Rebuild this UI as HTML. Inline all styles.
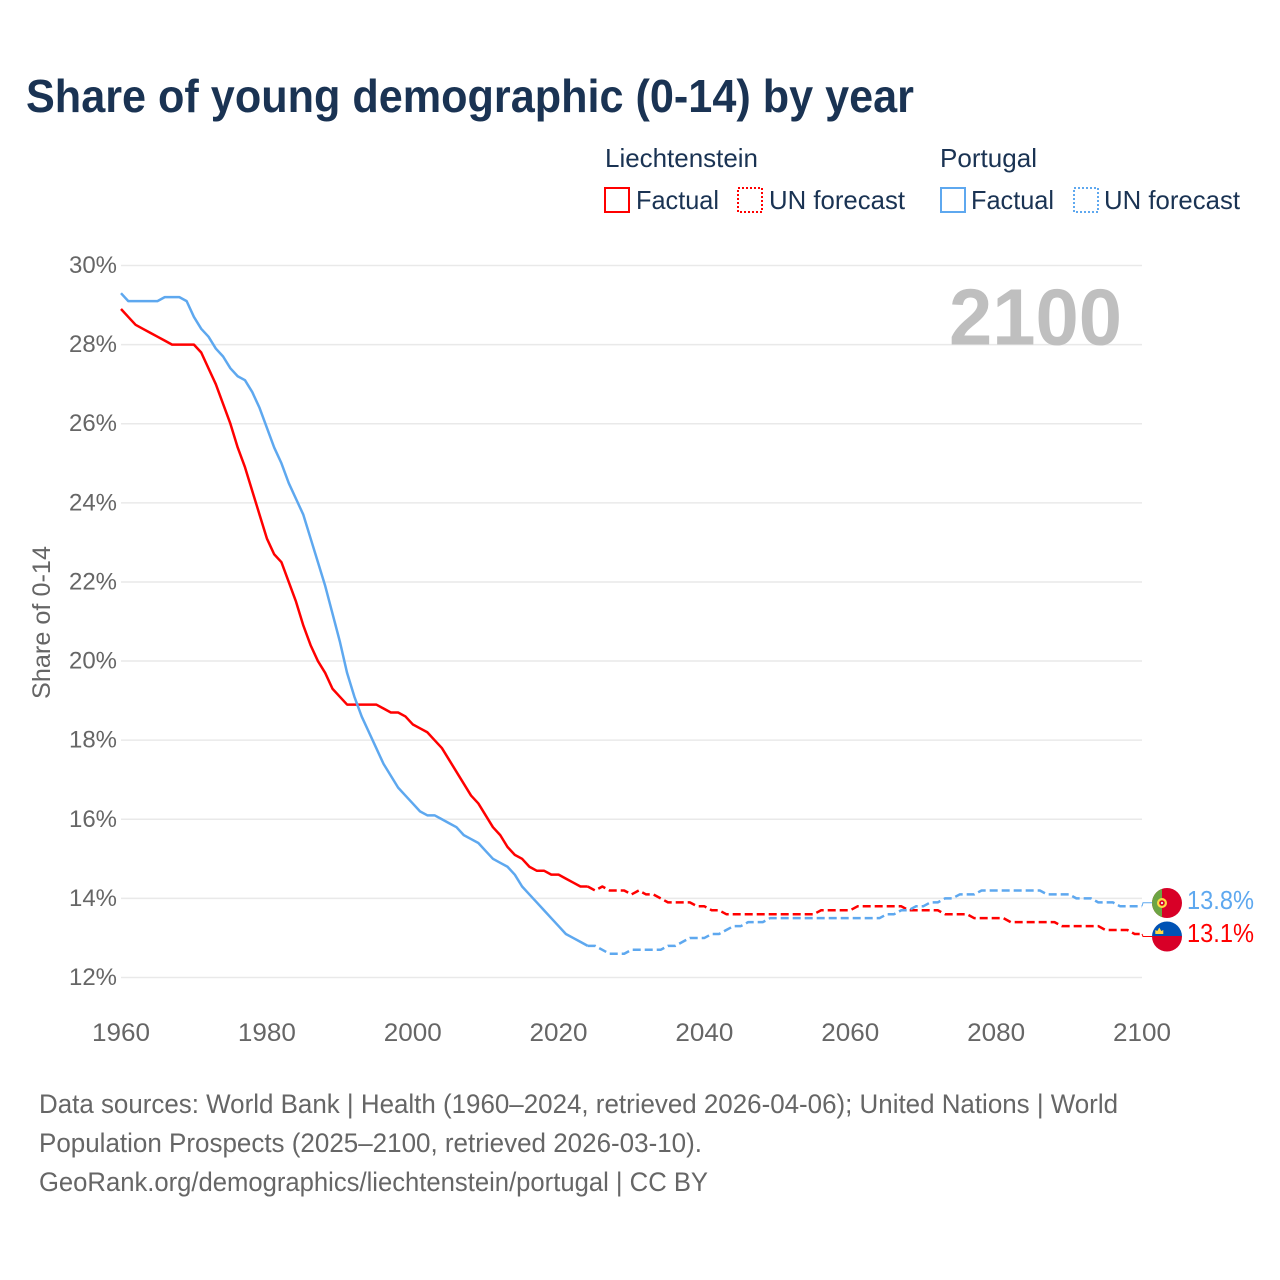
<!DOCTYPE html>
<html lang="en">
<head>
<meta charset="utf-8">
<title>Share of young demographic (0-14) by year</title>
<style>
html,body{margin:0;padding:0;background:#fff;}
svg{display:block;font-family:"Liberation Sans",sans-serif;}
</style>
</head>
<body>
<svg id="chart" xmlns="http://www.w3.org/2000/svg" width="1280" height="1280" viewBox="0 0 1280 1280">
  <defs>
    <clipPath id="clip-flag-pt"><circle cx="1167" cy="903" r="15"/></clipPath>
    <clipPath id="clip-flag-li"><circle cx="1167" cy="936.5" r="15"/></clipPath>
  </defs>
  <rect x="0" y="0" width="1280" height="1280" fill="#ffffff"/>
  <text x="26" y="112" font-size="46" font-weight="700" fill="#1a3353" textLength="888" lengthAdjust="spacingAndGlyphs">Share of young demographic (0-14) by year</text>

  <g font-size="26" fill="#1a3353">
    <text x="605" y="167" textLength="153" lengthAdjust="spacingAndGlyphs">Liechtenstein</text>
    <rect x="605" y="188" width="24" height="24" fill="none" stroke="#ff0000" stroke-width="2"/>
    <text x="636" y="209" textLength="83" lengthAdjust="spacingAndGlyphs">Factual</text>
    <rect x="738" y="188" width="24" height="24" fill="none" stroke="#ff0000" stroke-width="2" stroke-dasharray="2 2"/>
    <text x="769" y="209" textLength="136" lengthAdjust="spacingAndGlyphs">UN forecast</text>
    <text x="940" y="167" textLength="97" lengthAdjust="spacingAndGlyphs">Portugal</text>
    <rect x="941" y="188" width="24" height="24" fill="none" stroke="#5ea8ef" stroke-width="2"/>
    <text x="971" y="209" textLength="83" lengthAdjust="spacingAndGlyphs">Factual</text>
    <rect x="1074" y="188" width="24" height="24" fill="none" stroke="#5ea8ef" stroke-width="2" stroke-dasharray="2 2"/>
    <text x="1104" y="209" textLength="136" lengthAdjust="spacingAndGlyphs">UN forecast</text>
  </g>

  <g id="grid"></g>
  <g id="yticks"></g>
  <g id="xticks"></g>

  <text transform="translate(50 622.5) rotate(-90)" text-anchor="middle" font-size="25" fill="#666666" textLength="153" lengthAdjust="spacingAndGlyphs">Share of 0-14</text>
  <text x="949" y="344.5" font-size="80" font-weight="700" fill="#bfbfbf" textLength="173" lengthAdjust="spacingAndGlyphs">2100</text>

  <g id="series"></g>

  <g clip-path="url(#clip-flag-pt)">
    <rect x="1152" y="887" width="30" height="32" fill="#d80027"/>
    <rect x="1152" y="887" width="10" height="32" fill="#6da544"/>
    <circle cx="1162" cy="903" r="5" fill="#ffda44"/>
    <circle cx="1162" cy="903" r="2.8" fill="#d80027"/>
    <circle cx="1162" cy="903" r="1.1" fill="#eeeeee"/>
  </g>
  <g clip-path="url(#clip-flag-li)">
    <rect x="1152" y="921" width="30" height="15.5" fill="#0052b4"/>
    <rect x="1152" y="936" width="30" height="16" fill="#d80027"/>
    <path d="M1155.3 934 L1155.3 930 L1157.3 931 L1159.3 927.5 L1161.3 931 L1163.3 930 L1163.3 934 Z" fill="#ffda44"/>
  </g>

  <g font-size="27" fill="#666666">
    <text x="39" y="1113" textLength="1079" lengthAdjust="spacingAndGlyphs">Data sources: World Bank | Health (1960–2024, retrieved 2026-04-06); United Nations | World</text>
    <text x="39" y="1152" textLength="663" lengthAdjust="spacingAndGlyphs">Population Prospects (2025–2100, retrieved 2026-03-10).</text>
    <text x="39" y="1191" textLength="669" lengthAdjust="spacingAndGlyphs">GeoRank.org/demographics/liechtenstein/portugal | CC BY</text>
  </g>
</svg>
<script>
var xTickLabels = [1960,1980,2000,2020,2040,2060,2080,2100];
var yTickLabels = [12,14,16,18,20,22,24,26,28,30];
var factualYears = [1960,1961,1962,1963,1964,1965,1966,1967,1968,1969,1970,1971,1972,1973,1974,1975,1976,1977,1978,1979,1980,1981,1982,1983,1984,1985,1986,1987,1988,1989,1990,1991,1992,1993,1994,1995,1996,1997,1998,1999,2000,2001,2002,2003,2004,2005,2006,2007,2008,2009,2010,2011,2012,2013,2014,2015,2016,2017,2018,2019,2020,2021,2022,2023,2024];
var forecastYears = [2024,2025,2026,2027,2028,2029,2030,2031,2032,2033,2034,2035,2036,2037,2038,2039,2040,2041,2042,2043,2044,2045,2046,2047,2048,2049,2050,2051,2052,2053,2054,2055,2056,2057,2058,2059,2060,2061,2062,2063,2064,2065,2066,2067,2068,2069,2070,2071,2072,2073,2074,2075,2076,2077,2078,2079,2080,2081,2082,2083,2084,2085,2086,2087,2088,2089,2090,2091,2092,2093,2094,2095,2096,2097,2098,2099,2100];
var liechtensteinFactual = [28.9,28.7,28.5,28.4,28.3,28.2,28.1,28.0,28.0,28.0,
  28.0,27.8,27.4,27.0,26.5,26.0,25.4,24.9,24.3,23.7,
  23.1,22.7,22.5,22.0,21.5,20.9,20.4,20.0,19.7,19.3,
  19.1,18.9,18.9,18.9,18.9,18.9,18.8,18.7,18.7,18.6,
  18.4,18.3,18.2,18.0,17.8,17.5,17.2,16.9,16.6,16.4,
  16.1,15.8,15.6,15.3,15.1,15.0,14.8,14.7,14.7,14.6,
  14.6,14.5,14.4,14.3,14.3];
var portugalFactual = [29.3,29.1,29.1,29.1,29.1,29.1,29.2,29.2,29.2,29.1,
  28.7,28.4,28.2,27.9,27.7,27.4,27.2,27.1,26.8,26.4,
  25.9,25.4,25.0,24.5,24.1,23.7,23.1,22.5,21.9,21.2,
  20.5,19.7,19.1,18.6,18.2,17.8,17.4,17.1,16.8,16.6,
  16.4,16.2,16.1,16.1,16.0,15.9,15.8,15.6,15.5,15.4,
  15.2,15.0,14.9,14.8,14.6,14.3,14.1,13.9,13.7,13.5,
  13.3,13.1,13.0,12.9,12.8];
var liechtensteinForecast = [14.3,14.2,14.3,14.2,14.2,14.2,
  14.1,14.2,14.1,14.1,14.0,13.9,13.9,13.9,13.9,13.8,
  13.8,13.7,13.7,13.6,13.6,13.6,13.6,13.6,13.6,13.6,
  13.6,13.6,13.6,13.6,13.6,13.6,13.7,13.7,13.7,13.7,
  13.7,13.8,13.8,13.8,13.8,13.8,13.8,13.8,13.7,13.7,
  13.7,13.7,13.7,13.6,13.6,13.6,13.6,13.5,13.5,13.5,
  13.5,13.5,13.4,13.4,13.4,13.4,13.4,13.4,13.4,13.3,
  13.3,13.3,13.3,13.3,13.3,13.2,13.2,13.2,13.2,13.1,
  13.1];
var portugalForecast = [12.8,12.8,12.7,12.6,12.6,12.6,
  12.7,12.7,12.7,12.7,12.7,12.8,12.8,12.9,13.0,13.0,
  13.0,13.1,13.1,13.2,13.3,13.3,13.4,13.4,13.4,13.5,
  13.5,13.5,13.5,13.5,13.5,13.5,13.5,13.5,13.5,13.5,
  13.5,13.5,13.5,13.5,13.5,13.6,13.6,13.7,13.7,13.8,
  13.8,13.9,13.9,14.0,14.0,14.1,14.1,14.1,14.2,14.2,
  14.2,14.2,14.2,14.2,14.2,14.2,14.2,14.1,14.1,14.1,
  14.1,14.0,14.0,14.0,13.9,13.9,13.9,13.8,13.8,13.8,
  13.8];
var endLabels = ["13.8%","13.1%"];

var NS = "http://www.w3.org/2000/svg";
var RED = "#ff0000";
var BLUE = "#5ea8ef";

function xScale(year) { return 121 + (year - 1960) * (1021 / 140); }
function yScale(pct) { return 977.5 - (pct - 12) * (712 / 18); }

function makeEl(tag, attrs, parent) {
  var el = document.createElementNS(NS, tag);
  for (var k in attrs) { el.setAttribute(k, attrs[k]); }
  parent.appendChild(el);
  return el;
}

var gridGroup = document.getElementById("grid");
var yGroup = document.getElementById("yticks");
var xGroup = document.getElementById("xticks");
var seriesGroup = document.getElementById("series");

yTickLabels.forEach(function (v) {
  var line = makeEl("line", {x1: 121, x2: 1142, y1: yScale(v), y2: yScale(v), stroke: "#e9e9e9", "stroke-width": 1.5}, gridGroup);
  
  
  var t = makeEl("text", {x: 117, y: yScale(v) + 7.5, "text-anchor": "end", "font-size": 24, fill: "#666666", textLength: 48, lengthAdjust: "spacingAndGlyphs"}, yGroup);
  t.textContent = v + "%";
  
  
});

xTickLabels.forEach(function (v) {
  var t = makeEl("text", {x: xScale(v), y: 1041, "text-anchor": "middle", "font-size": 25, fill: "#666666", textLength: 58, lengthAdjust: "spacingAndGlyphs"}, xGroup);
  t.textContent = String(v);
  
  
});

function pathFor(years, values) {
  return values.map(function (v, i) {
    return (i ? "L" : "M") + xScale(years[i]).toFixed(2) + " " + yScale(v).toFixed(2);
  }).join(" ");
}

function drawLine(years, values, color, dash, name) {
  var attrs = {d: pathFor(years, values), fill: "none", stroke: color, "stroke-width": 2.5, "stroke-linejoin": "round"};
  if (dash) { attrs["stroke-dasharray"] = dash; }
  var p = makeEl("path", attrs, seriesGroup);
  
  
}

drawLine(factualYears, liechtensteinFactual, RED, null, 'line-liechtenstein-factual');
drawLine(forecastYears, liechtensteinForecast, RED, "8 4", 'line-liechtenstein-forecast');
drawLine(factualYears, portugalFactual, BLUE, null, 'line-portugal-factual');
drawLine(forecastYears, portugalForecast, BLUE, "8 4", 'line-portugal-forecast');

function drawEnd(lastValue, flagY, labelY, color, label, name) {
  var ex = xScale(2100), ey = yScale(lastValue);
  var c = makeEl("path", {d: "M" + ex + " " + ey + " L" + (ex + 1) + " " + flagY + " L1152 " + flagY, fill: "none", stroke: color, "stroke-width": 1}, seriesGroup);
  
  
  var t = makeEl("text", {x: 1187, y: labelY, "font-size": 26, fill: color, textLength: 67, lengthAdjust: "spacingAndGlyphs"}, seriesGroup);
  t.textContent = label;
  
  
}

drawEnd(portugalForecast[portugalForecast.length - 1], 902.7, 909, BLUE, endLabels[0], 'portugal-end');
drawEnd(liechtensteinForecast[liechtensteinForecast.length - 1], 936.5, 942, RED, endLabels[1], 'liechtenstein-end');
</script>
</body>
</html>
